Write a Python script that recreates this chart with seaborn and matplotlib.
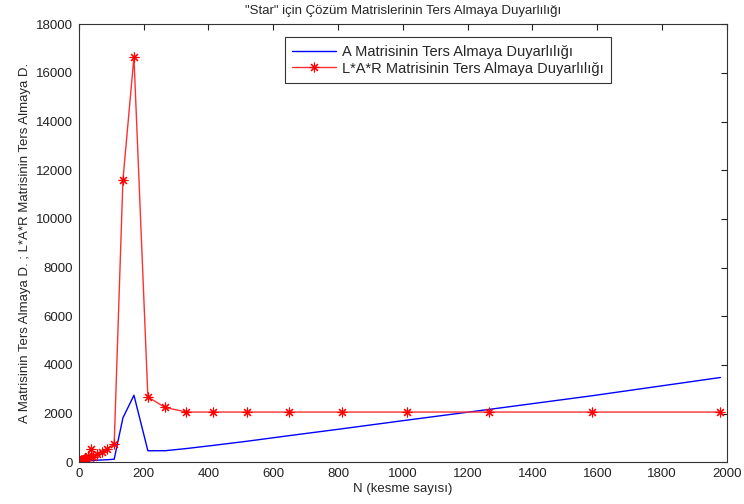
import matplotlib
matplotlib.use("Agg")
import matplotlib.pyplot as plt
import seaborn as sns
import pandas as pd

N = [2, 3, 4, 5, 6, 8, 10, 12, 15, 19, 23, 29, 36, 45, 56, 70, 87, 109, 136, 170,
     213, 266, 332, 415, 519, 649, 811, 1014, 1267, 1584, 1980]
a_sens = [5, 8, 10, 12, 15, 20, 25, 30, 35, 40, 45, 50, 60, 70, 80, 90, 100, 120, 1820, 2750,
          470, 470, 560, 690, 860, 1090, 1370, 1730, 2170, 2730, 3480]
lar_sens = [10, 20, 30, 40, 50, 70, 80, 100, 120, 150, 180, 250, 560, 220, 320, 420, 560, 750, 11600, 16650,
            2680, 2250, 2060, 2060, 2060, 2060, 2060, 2060, 2060, 2060, 2060]

title = '"Star" için Çözüm Matrislerinin Ters Almaya Duyarlılığı'
label_a = "A Matrisinin Ters Almaya Duyarlılığı"
label_lar = "L*A*R Matrisinin Ters Almaya Duyarlılığı"
xlabel = "N (kesme sayısı)"
ylabel = "A Matrisinin Ters Almaya D. ; L*A*R Matrisinin Ters Almaya D."

sns.set_theme(style="white")
plt.rcParams["font.family"] = ["Liberation Sans", "DejaVu Sans"]

df = pd.DataFrame({"N": N, "A": a_sens, "LAR": lar_sens})

fig = plt.figure(figsize=(7.44, 5.04), dpi=100)
ax = fig.add_axes([0.106, 0.083, 0.871, 0.869])

sns.lineplot(data=df, x="N", y="A", ax=ax, color="#0000ff", linewidth=1.0, label=label_a)
sns.lineplot(data=df, x="N", y="LAR", ax=ax, color="#ff3030", linewidth=1.0,
             marker=(8, 2, 0), markersize=7, markeredgewidth=0.8,
             markeredgecolor="#ff0000", markerfacecolor="#ff0000",
             label=label_lar)

ax.set_xlim(0, 2000)
ax.set_ylim(0, 18000)
ax.set_xticks(range(0, 2001, 200))
ax.set_yticks(range(0, 18001, 2000))
ax.tick_params(axis="both", direction="in", length=4, width=0.8, top=True, right=True,
               labelsize=9.5, colors="#222222", pad=4)
for s in ax.spines.values():
    s.set_color("#333333")
    s.set_linewidth(0.8)
ax.set_title(title, fontsize=9.5, pad=7)
ax.set_xlabel(xlabel, fontsize=9.5, labelpad=2)
ax.set_ylabel(ylabel, fontsize=9.5, labelpad=4)

leg = ax.legend(loc="upper left", bbox_to_anchor=(0.318, 0.970), borderaxespad=0,
                fontsize=10.5, frameon=True, fancybox=False, edgecolor="#000000",
                handlelength=3, handletextpad=0.4, borderpad=0.5, labelspacing=0.2)
leg.get_frame().set_linewidth(0.8)

fig.savefig("out.png", dpi=100)
